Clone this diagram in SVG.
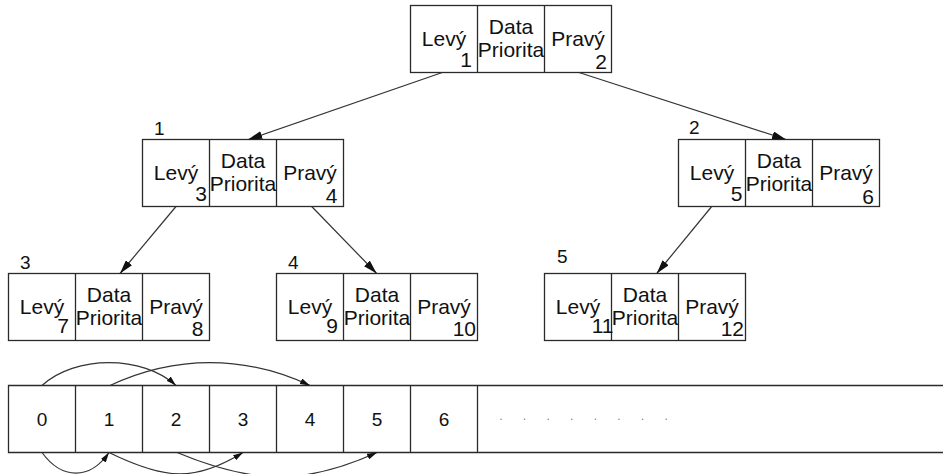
<svg xmlns="http://www.w3.org/2000/svg" width="943" height="474" viewBox="0 0 943 474">
<style>
.box{fill:#fff;stroke:#2a2a2a;stroke-width:1.3}
.div{stroke:#2a2a2a;stroke-width:1.3}
text{font-family:"Liberation Sans",Arial,sans-serif;fill:#111}
.t{font-size:21px;text-anchor:middle}
.d{font-size:21px;text-anchor:end}
.lbl{font-size:19px}
.ad{font-size:19px;text-anchor:middle}
.con{fill:none;stroke:#333;stroke-width:1.2}
</style>
<defs>
<marker id="ah" markerWidth="14" markerHeight="8" refX="14" refY="4" orient="auto" markerUnits="userSpaceOnUse"><path d="M0,0 L14,4 L0,8 z" fill="#111"/></marker>
<marker id="as" markerWidth="10" markerHeight="6" refX="10" refY="3" orient="auto" markerUnits="userSpaceOnUse"><path d="M0,0 L10,3 L0,6 z" fill="#111"/></marker>
</defs>

<g id="node-root">
<rect class="box" x="410.5" y="5.5" width="201" height="67"/>
<line class="div" x1="477.5" y1="5.5" x2="477.5" y2="72.5"/>
<line class="div" x1="544.5" y1="5.5" x2="544.5" y2="72.5"/>
<text class="t" x="444" y="45.5">Levý</text>
<text class="t" x="511" y="34">Data</text>
<text class="t" x="511" y="56.5">Priorita</text>
<text class="t" x="578" y="45.5">Pravý</text>
<text class="d" x="472" y="66.5">1</text>
<text class="d" x="607" y="68.5">2</text>
</g>

<g id="node-1">
<text class="lbl" x="154" y="135">1</text>
<rect class="box" x="142.5" y="139.5" width="201" height="67"/>
<line class="div" x1="209.5" y1="139.5" x2="209.5" y2="206.5"/>
<line class="div" x1="276.5" y1="139.5" x2="276.5" y2="206.5"/>
<text class="t" x="176" y="179.5">Levý</text>
<text class="t" x="243" y="168">Data</text>
<text class="t" x="243" y="190.5">Priorita</text>
<text class="t" x="310" y="179.5">Pravý</text>
<text class="d" x="207" y="200.5">3</text>
<text class="d" x="337.5" y="202.5">4</text>
</g>

<g id="node-2">
<text class="lbl" x="689" y="134">2</text>
<rect class="box" x="678.5" y="139.5" width="201" height="67"/>
<line class="div" x1="745.5" y1="139.5" x2="745.5" y2="206.5"/>
<line class="div" x1="812.5" y1="139.5" x2="812.5" y2="206.5"/>
<text class="t" x="712" y="179.5">Levý</text>
<text class="t" x="779" y="168">Data</text>
<text class="t" x="779" y="190.5">Priorita</text>
<text class="t" x="846" y="179.5">Pravý</text>
<text class="d" x="742.5" y="200.5">5</text>
<text class="d" x="874" y="203.5">6</text>
</g>

<g id="node-3">
<text class="lbl" x="20" y="268.5">3</text>
<rect class="box" x="8.5" y="273.5" width="201" height="67"/>
<line class="div" x1="75.5" y1="273.5" x2="75.5" y2="340.5"/>
<line class="div" x1="142.5" y1="273.5" x2="142.5" y2="340.5"/>
<text class="t" x="42" y="313.5">Levý</text>
<text class="t" x="109" y="302">Data</text>
<text class="t" x="109" y="325">Priorita</text>
<text class="t" x="176" y="313.5">Pravý</text>
<text class="d" x="69" y="333">7</text>
<text class="d" x="203.5" y="336">8</text>
</g>

<g id="node-4">
<text class="lbl" x="288" y="268.5">4</text>
<rect class="box" x="276.5" y="273.5" width="201" height="67"/>
<line class="div" x1="343.5" y1="273.5" x2="343.5" y2="340.5"/>
<line class="div" x1="410.5" y1="273.5" x2="410.5" y2="340.5"/>
<text class="t" x="310" y="313.5">Levý</text>
<text class="t" x="377" y="302">Data</text>
<text class="t" x="377" y="325">Priorita</text>
<text class="t" x="444" y="313.5">Pravý</text>
<text class="d" x="338" y="333">9</text>
<text class="d" x="476" y="336">10</text>
</g>

<g id="node-5">
<text class="lbl" x="557" y="262.5">5</text>
<rect class="box" x="544.5" y="273.5" width="201" height="67"/>
<line class="div" x1="611.5" y1="273.5" x2="611.5" y2="340.5"/>
<line class="div" x1="678.5" y1="273.5" x2="678.5" y2="340.5"/>
<text class="t" x="578" y="313.5">Levý</text>
<text class="t" x="645" y="302">Data</text>
<text class="t" x="645" y="325">Priorita</text>
<text class="t" x="712" y="313.5">Pravý</text>
<text class="d" x="613.5" y="333">11</text>
<text class="d" x="744" y="336">12</text>
</g>

<g id="array">
<path class="box" d="M943,385.5 H8.5 V452.5 H943" fill="none"/>
<line class="div" x1="75.5" y1="385.5" x2="75.5" y2="452.5"/>
<line class="div" x1="142.5" y1="385.5" x2="142.5" y2="452.5"/>
<line class="div" x1="209.5" y1="385.5" x2="209.5" y2="452.5"/>
<line class="div" x1="276.5" y1="385.5" x2="276.5" y2="452.5"/>
<line class="div" x1="343.5" y1="385.5" x2="343.5" y2="452.5"/>
<line class="div" x1="410.5" y1="385.5" x2="410.5" y2="452.5"/>
<line class="div" x1="477.5" y1="385.5" x2="477.5" y2="452.5"/>
<text class="ad" x="42" y="426">0</text>
<text class="ad" x="109" y="426">1</text>
<text class="ad" x="176" y="426">2</text>
<text class="ad" x="243" y="426">3</text>
<text class="ad" x="310" y="426">4</text>
<text class="ad" x="377" y="426">5</text>
<text class="ad" x="444" y="426">6</text>
<g fill="#888">
<circle cx="501" cy="419.3" r="0.8"/>
<circle cx="524.6" cy="419.3" r="0.8"/>
<circle cx="548.2" cy="419.3" r="0.8"/>
<circle cx="571.8" cy="419.3" r="0.8"/>
<circle cx="595.4" cy="419.3" r="0.8"/>
<circle cx="619" cy="419.3" r="0.8"/>
<circle cx="642.6" cy="419.3" r="0.8"/>
<circle cx="666.2" cy="419.3" r="0.8"/>
</g>
</g>

<g id="connectors">
<line class="con" x1="442.3" y1="72.5" x2="248.3" y2="139.5" marker-end="url(#ah)"/>
<line class="con" x1="579" y1="72.5" x2="786" y2="139.5" marker-end="url(#ah)"/>
<line class="con" x1="176" y1="206.5" x2="120" y2="273.5" marker-end="url(#ah)"/>
<line class="con" x1="311.7" y1="206.5" x2="376.7" y2="273.5" marker-end="url(#ah)"/>
<line class="con" x1="711.7" y1="206.5" x2="656.7" y2="273.5" marker-end="url(#ah)"/>
<path class="con" d="M42,385.5 C75,355 143,355 176,385.5" marker-end="url(#as)"/>
<path class="con" d="M110,385.5 C175,355 245,355 310,385.5" marker-end="url(#as)"/>
<path class="con" d="M42,452.5 C62,480 90,480 109,452.5" marker-end="url(#as)"/>
<path class="con" d="M109,452.5 C165,480 195,482 243,452.5" marker-end="url(#as)"/>
<path class="con" d="M177,452.5 C255,485 305,485 377,452.5" marker-end="url(#as)"/>
</g>
</svg>
